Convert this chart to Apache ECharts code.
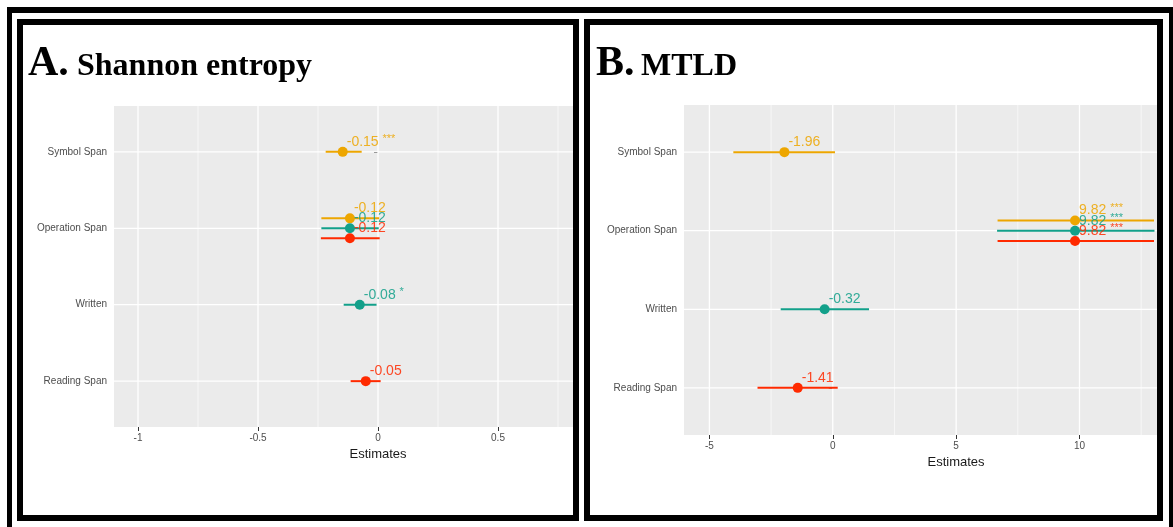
<!DOCTYPE html>
<html>
<head>
<meta charset="utf-8">
<script src="https://cdn.jsdelivr.net/npm/echarts@6/dist/echarts.min.js"></script>
<style>
  body { margin: 0; background: #fff; width: 1173px; height: 527px; position: relative; overflow: hidden; }
  .bar { position: absolute; background: #000; }
  .panel { position: absolute; top: 19px; height: 502px; border: 6px solid #000; box-sizing: border-box; background: #fff; }
  .chart { width: 100%; height: 100%; }
</style>
</head>
<body>
<div class="bar" style="left:7px;top:7px;width:1166px;height:6px"></div>
<div class="bar" style="left:7px;top:7px;width:5px;height:520px"></div>
<div class="bar" style="left:1169px;top:7px;width:4px;height:520px"></div>
<div class="panel" style="left:17px;width:562px"><div id="chartA" class="chart"></div></div>
<div class="panel" style="left:584px;width:579px"><div id="chartB" class="chart"></div></div>
<script>
// predictors, top to bottom (y position 4 .. 1)
const categories = ['Symbol Span', 'Operation Span', 'Written', 'Reading Span'];
const catPos = [4, 3, 2, 1];
const modelColors = ['#EDA600', '#12A08A', '#FF2A00'];

// A. Shannon entropy: [predictor, estimate, ci low, ci high, value label, stars]
const entropyM1 = [
  ['Symbol Span', -0.147, -0.218, -0.068, '-0.15', '***'],
  ['Operation Span', -0.117, -0.236, 0.005, '-0.12', '']
];
const entropyM2 = [
  ['Operation Span', -0.117, -0.236, 0.003, '-0.12', ''],
  ['Written', -0.076, -0.143, -0.006, '-0.08', '*']
];
const entropyM3 = [
  ['Operation Span', -0.117, -0.238, 0.007, '-0.12', ''],
  ['Reading Span', -0.051, -0.114, 0.011, '-0.05', '']
];

// B. MTLD
const mtldM1 = [
  ['Symbol Span', -1.96, -4.03, 0.09, '-1.96', ''],
  ['Operation Span', 9.82, 6.68, 13.02, '9.82', '***']
];
const mtldM2 = [
  ['Operation Span', 9.82, 6.66, 13.04, '9.82', '***'],
  ['Written', -0.33, -2.11, 1.47, '-0.32', '']
];
const mtldM3 = [
  ['Operation Span', 9.82, 6.68, 13.02, '9.82', '***'],
  ['Reading Span', -1.42, -3.05, 0.20, '-1.41', '']
];

const entropyTicks = [-1, -0.5, 0, 0.5, 1];
const entropyMinor = [-0.75, -0.25, 0.25, 0.75];
const mtldTicks = [-5, 0, 5, 10, 15];
const mtldMinor = [-2.5, 2.5, 7.5, 12.5];

const dodge = 0.13;

function yOf(cat, modelIdx, models) {
  const shared = models.filter(m => m.some(r => r[0] === cat)).length;
  const base = catPos[categories.indexOf(cat)];
  return shared > 1 ? base + dodge * (1 - modelIdx) : base;
}

function vGrid(lw) {
  return function (params, api) {
    const cs = params.coordSys;
    const x = api.coord([api.value(0), 2.5])[0];
    return { type: 'line', shape: { x1: x, y1: cs.y, x2: x, y2: cs.y + cs.height },
      style: { stroke: '#fff', lineWidth: lw } };
  };
}
function hGrid(params, api) {
  const cs = params.coordSys;
  const y = api.coord([0, api.value(0)])[1];
  return { type: 'line', shape: { x1: cs.x, y1: y, x2: cs.x + cs.width, y2: y },
    style: { stroke: '#fff', lineWidth: 1.3 } };
}
function ciBar(params, api) {
  const p1 = api.coord([api.value(0), api.value(2)]);
  const p2 = api.coord([api.value(1), api.value(2)]);
  return { type: 'line', shape: { x1: p1[0], y1: p1[1], x2: p2[0], y2: p2[1] },
    style: { stroke: api.visual('color'), lineWidth: 2 } };
}

function makeOption(cfg) {
  const series = [
    { type: 'custom', z: 1, silent: true, renderItem: vGrid(0.6), data: cfg.minor.map(v => [v]) },
    { type: 'custom', z: 1, silent: true, renderItem: vGrid(1.3), data: cfg.ticks.map(v => [v]) },
    { type: 'custom', z: 1, silent: true, renderItem: hGrid, data: catPos.map(v => [v]) }
  ];
  cfg.models.forEach((rows, i) => {
    const color = modelColors[i];
    series.push({
      type: 'custom', z: 2, renderItem: ciBar, itemStyle: { color: color },
      data: rows.map(r => [r[2], r[3], yOf(r[0], i, cfg.models)])
    });
    series.push({
      type: 'scatter', z: 3, symbolSize: 10, itemStyle: { color: color, opacity: 1 },
      data: rows.map(r => [r[1], yOf(r[0], i, cfg.models), r[4], r[5]]),
      label: {
        show: true, position: [9, -5], align: 'left', verticalAlign: 'middle',
        fontFamily: 'Liberation Sans', fontSize: 14, color: color, opacity: 0.85,
        formatter: p => p.value[3] ? p.value[2] + ' {s|' + p.value[3] + '}' : p.value[2],
        rich: {
          s: { fontFamily: 'Liberation Sans', fontSize: 11, color: color, padding: [0, 0, 5, 0] }
        }
      }
    });
  });
  return {
    animation: false,
    graphic: [
      { type: 'text', x: cfg.titleX, y: 39, style: { text: cfg.letter, font: 'bold 42px "Liberation Serif"', fill: '#000', verticalAlign: 'middle' } },
      { type: 'text', x: cfg.titleX + cfg.letterW, y: 42, style: { text: cfg.title, font: 'bold 32px "Liberation Serif"', fill: '#000', verticalAlign: 'middle' } }
    ],
    grid: { left: cfg.left, right: cfg.right, top: cfg.top, bottom: cfg.bottom, show: true,
      outerBoundsMode: 'none', containLabel: false,
      backgroundColor: '#EBEBEB', borderWidth: 0 },
    xAxis: {
      type: 'value', min: cfg.min, max: cfg.max,
      name: 'Estimates', nameLocation: 'middle', nameGap: 20,
      nameTextStyle: { fontFamily: 'Liberation Sans', fontSize: 13, color: '#1A1A1A' },
      axisLine: { show: false },
      axisTick: { show: true, customValues: cfg.ticks, length: 4, lineStyle: { color: '#333' } },
      axisLabel: { customValues: cfg.ticks, margin: 6, fontFamily: 'Liberation Sans', fontSize: 10, color: '#4D4D4D',
        formatter: v => String(v) },
      splitLine: { show: false }
    },
    yAxis: {
      type: 'value', min: 0.4, max: 4.6,
      axisLine: { show: false },
      axisTick: { show: true, customValues: catPos, length: 4, lineStyle: { color: '#333' } },
      axisLabel: { customValues: catPos, margin: 7, fontFamily: 'Liberation Sans', fontSize: 10, color: '#4D4D4D',
        formatter: v => categories[catPos.indexOf(Math.round(v))] },
      splitLine: { show: false }
    },
    series: series
  };
}

const chartA = echarts.init(document.getElementById('chartA'));
chartA.setOption(makeOption({
  letter: 'A.', title: 'Shannon entropy', titleX: 5, letterW: 49,
  left: 91, right: -69, top: 81, bottom: 88,
  min: -1.1, max: 1.1, ticks: entropyTicks, minor: entropyMinor,
  models: [entropyM1, entropyM2, entropyM3]
}));

const chartB = echarts.init(document.getElementById('chartB'));
chartB.setOption(makeOption({
  letter: 'B.', title: 'MTLD', titleX: 6, letterW: 45,
  left: 94, right: -71, top: 80, bottom: 80,
  min: -6.03, max: 16.02, ticks: mtldTicks, minor: mtldMinor,
  models: [mtldM1, mtldM2, mtldM3]
}));
</script>
</body>
</html>
